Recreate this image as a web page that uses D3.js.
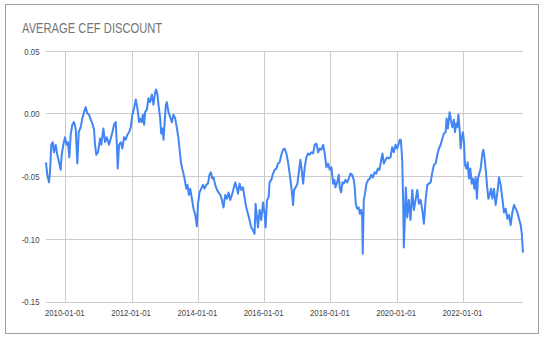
<!DOCTYPE html>
<html>
<head>
<meta charset="utf-8">
<script src="https://cdn.jsdelivr.net/npm/d3@7"></script>
<style>
  html, body { margin: 0; padding: 0; background: #fff; }
  svg { display: block; }
</style>
</head>
<body>
<svg id="chart" width="543" height="339"></svg>
<script>
// ---- data (decimal years, average discount) ----
const years = [
  2009.417,2009.456,2009.507,2009.537,2009.577,2009.619,2009.658,2009.710,2009.758,2009.810,
  2009.861,2009.891,2009.940,2009.991,2010.042,2010.082,2010.121,2010.163,2010.212,2010.263,
  2010.314,2010.363,2010.405,2010.466,2010.514,2010.565,2010.617,2010.665,2010.716,2010.768,
  2010.816,2010.868,2010.898,2010.937,2010.989,2011.049,2011.088,2011.149,2011.200,2011.252,
  2011.321,2011.372,2011.421,2011.472,2011.524,2011.554,2011.584,2011.623,2011.675,2011.723,
  2011.775,2011.826,2011.874,2011.926,2011.977,2012.025,2012.077,2012.128,2012.177,2012.228,
  2012.257,2012.310,2012.340,2012.379,
  2012.409,2012.461,2012.509,2012.560,2012.612,2012.660,2012.712,2012.742,2012.781,2012.811,
  2012.863,2012.893,2012.932,2012.963,2012.993,2013.035,2013.065,2013.114,2013.165,2013.216,
  2013.265,2013.316,2013.368,2013.416,2013.446,2013.489,2013.528,2013.567,2013.619,2013.649,
  2013.688,2013.730,2013.770,2013.821,2013.869,2013.921,2013.972,2014.002,2014.051,2014.102,
  2014.154,2014.202,2014.253,2014.305,2014.353,2014.396,2014.435,2014.474,2014.525,2014.577,
  2014.625,2014.677,2014.728,2014.776,2014.828,2014.879,2014.927,2014.979,2015.030,2015.079,
  2015.130,2015.181,
  2015.212,2015.260,2015.311,2015.363,2015.411,2015.463,2015.514,2015.562,2015.614,2015.665,
  2015.713,2015.744,2015.786,2015.816,2015.865,2015.916,2015.967,2016.016,2016.046,2016.088,
  2016.137,2016.167,2016.218,2016.270,2016.318,2016.370,2016.421,2016.469,2016.521,2016.572,
  2016.620,2016.672,2016.723,2016.771,2016.823,2016.874,2016.904,2016.953,2017.004,2017.055,
  2017.095,2017.134,2017.177,2017.225,2017.276,2017.328,2017.376,2017.428,2017.479,2017.527,
  2017.579,2017.630,2017.678,2017.730,2017.781,2017.830,2017.881,2017.932,2017.981,2018.032,
  2018.083,2018.123,2018.153,2018.204,2018.253,2018.283,2018.325,2018.365,2018.404,2018.456,
  2018.507,2018.555,2018.607,2018.658,2018.706,2018.736,2018.767,2018.809,2018.857,2018.888,
  2018.930,2018.960,2018.978,2019.008,2019.039,2019.090,2019.141,2019.190,2019.232,2019.281,
  2019.332,2019.383,2019.432,2019.483,2019.535,2019.574,2019.613,2019.665,2019.716,2019.764,
  2019.816,2019.867,2019.915,2019.967,2020.018,2020.067,2020.097,2020.127,2020.169,2020.199,
  2020.218,2020.248,2020.278,2020.320,2020.369,2020.420,2020.472,2020.520,2020.572,2020.623,
  2020.672,2020.723,2020.774,2020.822,2020.874,2020.925,2020.973,2021.025,
  2021.076,2021.125,2021.176,2021.228,2021.276,2021.327,2021.379,2021.427,2021.478,2021.509,
  2021.548,2021.600,2021.630,2021.681,2021.729,2021.760,2021.802,2021.832,2021.862,2021.902,
  2021.932,2021.962,2022.001,2022.032,2022.062,2022.104,2022.144,2022.183,2022.225,2022.264,
  2022.304,2022.346,2022.385,2022.425,2022.455,2022.485,2022.536,2022.588,2022.618,2022.657,
  2022.687,2022.727,2022.769,2022.808,2022.848,2022.890,2022.938,2022.990,2023.041,2023.090,
  2023.141,2023.192,2023.241,2023.292,2023.343,2023.392,2023.443,2023.494,2023.543,2023.594,
  2023.646,2023.694,2023.745,2023.776,2023.815
];
const discount = [
  -0.039,-0.049,-0.055,-0.047,-0.025,-0.023,-0.031,-0.025,-0.033,-0.039,
  -0.045,-0.033,-0.025,-0.019,-0.025,-0.023,-0.035,-0.017,-0.009,-0.007,
  -0.012,-0.040,-0.015,-0.011,-0.004,0.001,0.005,0.000,-0.001,-0.005,
  -0.008,-0.013,-0.025,-0.033,-0.031,-0.020,-0.025,-0.012,-0.023,-0.019,
  -0.025,-0.020,-0.015,-0.009,-0.007,-0.023,-0.044,-0.025,-0.023,-0.028,
  -0.019,-0.021,-0.017,-0.015,-0.011,-0.001,0.004,0.011,0.004,-0.007,
  -0.004,-0.007,-0.001,-0.009,
  0.001,0.003,0.012,0.009,0.015,0.007,0.017,0.019,0.015,0.007,
  -0.004,-0.016,-0.012,-0.021,-0.009,0.007,0.009,0.001,-0.003,-0.007,
  -0.001,-0.004,-0.012,-0.020,-0.028,-0.039,-0.044,-0.048,-0.055,-0.060,
  -0.057,-0.065,-0.060,-0.068,-0.076,-0.081,-0.090,-0.073,-0.063,-0.060,
  -0.057,-0.060,-0.057,-0.056,-0.049,-0.047,-0.052,-0.051,-0.057,-0.061,
  -0.063,-0.065,-0.069,-0.075,-0.065,-0.068,-0.063,-0.069,-0.065,-0.060,
  -0.055,-0.060,
  -0.064,-0.056,-0.061,-0.059,-0.067,-0.075,-0.080,-0.085,-0.091,-0.093,
  -0.096,-0.072,-0.083,-0.091,-0.077,-0.085,-0.071,-0.080,-0.091,-0.069,
  -0.067,-0.055,-0.053,-0.048,-0.045,-0.044,-0.040,-0.039,-0.033,-0.029,
  -0.028,-0.032,-0.039,-0.048,-0.059,-0.073,-0.061,-0.059,-0.056,-0.045,
  -0.037,-0.045,-0.056,-0.043,-0.035,-0.032,-0.033,-0.031,-0.032,-0.025,
  -0.024,-0.031,-0.028,-0.029,-0.025,-0.032,-0.043,-0.040,-0.045,-0.043,
  -0.056,-0.053,-0.059,-0.055,-0.049,-0.059,-0.063,-0.055,-0.056,-0.053,
  -0.055,-0.052,-0.048,-0.049,-0.053,-0.059,-0.072,-0.076,-0.075,-0.080,
  -0.077,-0.083,-0.112,-0.069,-0.065,-0.056,-0.053,-0.052,-0.049,-0.051,
  -0.047,-0.048,-0.044,-0.045,-0.037,-0.032,-0.040,-0.037,-0.035,-0.036,
  -0.035,-0.027,-0.031,-0.025,-0.028,-0.024,-0.021,-0.021,-0.037,-0.072,
  -0.107,-0.085,-0.059,-0.083,-0.069,-0.085,-0.061,-0.077,-0.069,-0.061,
  -0.072,-0.069,-0.077,-0.088,-0.069,-0.057,-0.056,-0.055,
  -0.047,-0.041,-0.040,-0.033,-0.028,-0.025,-0.020,-0.016,-0.015,-0.004,
  -0.012,0.001,-0.004,-0.011,-0.005,-0.015,-0.008,-0.011,-0.001,-0.013,
  -0.028,-0.020,-0.015,-0.023,-0.041,-0.044,-0.039,-0.052,-0.044,-0.056,
  -0.052,-0.060,-0.051,-0.068,-0.052,-0.049,-0.044,-0.032,-0.029,-0.036,
  -0.044,-0.057,-0.068,-0.065,-0.060,-0.068,-0.060,-0.073,-0.063,-0.051,
  -0.057,-0.068,-0.079,-0.076,-0.084,-0.081,-0.089,-0.079,-0.073,-0.076,
  -0.079,-0.084,-0.089,-0.095,-0.111
];
const yTicks = [-0.15, -0.10, -0.05, 0.00, 0.05];
const yTickLabels = ["-0.15", "-0.10", "-0.05", "0.00", "0.05"];
const xTickYears = [2010, 2012, 2014, 2016, 2018, 2020, 2022];
const xTickLabels = ["2010-01-01", "2012-01-01", "2014-01-01", "2016-01-01", "2018-01-01", "2020-01-01", "2022-01-01"];
const chartTitle = "AVERAGE CEF DISCOUNT";

(function () {
  function toDate(t) {
    const yr = Math.floor(t);
    const a = new Date(yr, 0, 1), b = new Date(yr + 1, 0, 1);
    return new Date(+a + (t - yr) * (b - a));
  }
  const data = years.map((t, i) => ({ date: toDate(t), value: discount[i] }));

  const plotL = 46, plotR = 523, plotT = 50.7, plotB = 301.5;
  const sx = 0.82; // horizontal text compression seen in the reference
  const font = "Liberation Sans, Arial, sans-serif";

  const svg = d3.select("#chart");
  svg.append("rect").attr("x", 0).attr("y", 0).attr("width", 543).attr("height", 339).attr("fill", "#fff");
  svg.append("rect")
    .attr("x", 5.5).attr("y", 4.5).attr("width", 533).attr("height", 329)
    .attr("fill", "#fff").attr("stroke", "#9e9e9e").attr("stroke-width", 1);

  svg.append("text")
    .attr("transform", "translate(22,32.5) scale(0.8,1)")
    .attr("font-family", font)
    .attr("font-size", 14)
    .attr("fill", "#757575")
    .text(chartTitle);

  const x = d3.scaleTime()
    .domain(d3.extent(data, d => d.date))
    .range([plotL, plotR]);
  const y = d3.scaleLinear()
    .domain([-0.15, 0.05])
    .range([plotB, plotT]);

  const gy = svg.append("g")
    .attr("transform", `translate(${plotL},0)`)
    .call(d3.axisLeft(y).tickValues(yTicks).tickFormat((d, i) => yTickLabels[i])
          .tickSize(-(plotR - plotL)).tickPadding(0));
  gy.select(".domain").remove();
  gy.selectAll(".tick line").attr("stroke", "#cccccc").attr("shape-rendering", "crispEdges");
  gy.selectAll(".tick text")
    .attr("x", null).attr("dy", null)
    .attr("transform", `translate(-6.5,3.4) scale(${sx},1)`)
    .attr("text-anchor", "end")
    .attr("font-family", font)
    .attr("font-size", 9.5)
    .attr("fill", "#444");

  const gx = svg.append("g")
    .attr("transform", `translate(0,${plotB})`)
    .call(d3.axisBottom(x).tickValues(xTickYears.map(yy => new Date(yy, 0, 1)))
          .tickFormat((d, i) => xTickLabels[i])
          .tickSize(-(plotB - plotT)).tickPadding(0));
  gx.select(".domain").remove();
  gx.selectAll(".tick line").attr("stroke", "#cccccc").attr("shape-rendering", "crispEdges");
  gx.selectAll(".tick text")
    .attr("y", null).attr("dy", null)
    .attr("transform", `translate(-1,14.5) scale(${sx},1)`)
    .attr("text-anchor", "middle")
    .attr("font-family", font)
    .attr("font-size", 9.5)
    .attr("fill", "#444");

  const line = d3.line().x(d => x(d.date)).y(d => y(d.value));
  svg.append("path")
    .datum(data)
    .attr("fill", "none")
    .attr("stroke", "#4285f4")
    .attr("stroke-width", 2)
    .attr("stroke-linejoin", "round")
    .attr("d", line);
})();
</script>
</body>
</html>
